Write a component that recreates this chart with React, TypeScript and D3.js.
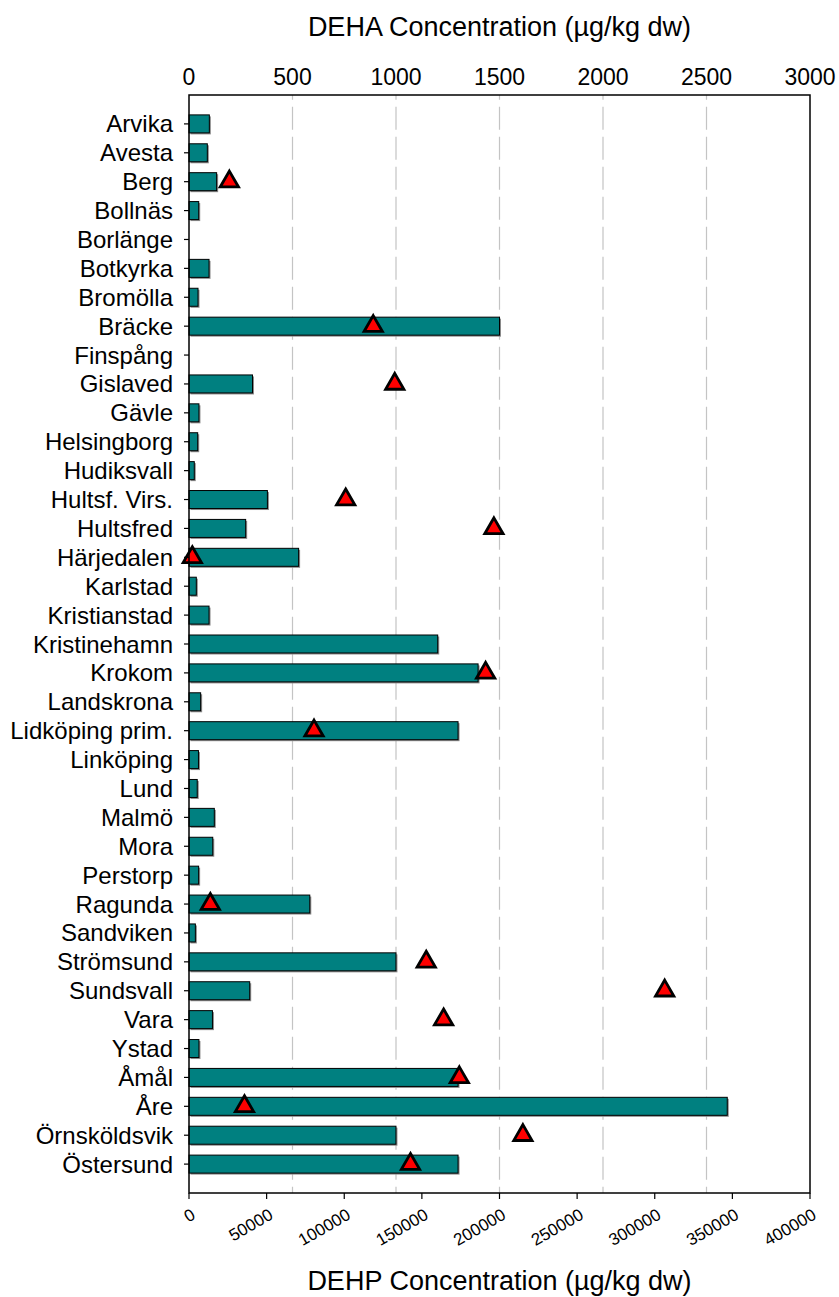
import React from "react";
import * as d3 from "d3";

const categories = [
  "Arvika", "Avesta", "Berg", "Bollnäs", "Borlänge", "Botkyrka", "Bromölla", "Bräcke",
  "Finspång", "Gislaved", "Gävle", "Helsingborg", "Hudiksvall", "Hultsf. Virs.", "Hultsfred",
  "Härjedalen", "Karlstad", "Kristianstad", "Kristinehamn", "Krokom", "Landskrona",
  "Lidköping prim.", "Linköping", "Lund", "Malmö", "Mora", "Perstorp", "Ragunda",
  "Sandviken", "Strömsund", "Sundsvall", "Vara", "Ystad", "Åmål", "Åre", "Örnsköldsvik", "Östersund",
];

// DEHP concentration (µg/kg dw) – bars, bottom axis
const dehp: (number | null)[] = [
  13100, 11800, 17800, 6250, null, 12900, 5800, 200000,
  null, 40900, 6400, 5600, 3400, 50500, 36500,
  70600, 4700, 12900, 160200, 186200, 7500,
  173300, 6100, 5300, 16300, 15300, 6200, 77800,
  4100, 133300, 39100, 15100, 6400, 173300, 346700, 133300, 173300,
];

// DEHA concentration (µg/kg dw) – triangles, top axis
const deha: (number | null)[] = [
  null, null, 195, null, null, null, null, 890,
  null, 994, null, null, null, 757, 1473,
  16, null, null, null, 1433, null,
  604, null, null, null, null, null, 103,
  null, 1146, 2298, 1230, null, 1306, 268, 1613, 1070,
];

const dehpTicks = [0, 50000, 100000, 150000, 200000, 250000, 300000, 350000, 400000];
const dehaTicks = [0, 500, 1000, 1500, 2000, 2500, 3000];

const W = 839;
const H = 1297;
const left = 189;
const right = 810;
const top = 95;
const bottom = 1193;
const FONT = "'Liberation Sans', Arial, Helvetica, sans-serif";

export default function App() {
  const xP = d3.scaleLinear().domain([0, 400000]).range([left, right]);
  const xA = d3.scaleLinear().domain([0, 3000]).range([left, right]);
  const y = d3.scalePoint<string>().domain(categories).range([top, bottom]).padding(1);
  const barH = 18;
  const tri = d3.symbol().type(d3.symbolTriangle).size(145)() as string;

  return (
    <svg
      width={W}
      height={H}
      style={{ position: "absolute", left: 0, top: 0, background: "#fff" }}
      fontFamily={FONT}
    >
      <rect x={0} y={0} width={W} height={H} fill="#fff" />
      {/* gridlines (DEHA axis) */}
      {dehaTicks.filter((t) => t > 0 && t < 3000).map((t) => (
        <line
          key={"g" + t}
          x1={xA(t)}
          x2={xA(t)}
          y1={top}
          y2={bottom}
          stroke="#c4c4c4"
          strokeWidth={1.2}
          strokeDasharray="23,7"
          strokeDashoffset={18.3}
        />
      ))}
      {/* bars */}
      {categories.map((c, i) => {
        const v = dehp[i];
        if (v == null) return null;
        const yc = y(c)!;
        return (
          <g key={"b" + c}>
            <rect x={left + 1.5} y={yc - barH / 2 + 1.5} width={xP(v) - left} height={barH} fill="#8a8a8a" />
            <rect
              x={left}
              y={yc - barH / 2}
              width={xP(v) - left}
              height={barH}
              fill="#008080"
              stroke="#000"
              strokeWidth={1}
            />
          </g>
        );
      })}
      {/* triangles */}
      {categories.map((c, i) => {
        const v = deha[i];
        if (v == null) return null;
        return (
          <path
            key={"t" + c}
            d={tri}
            transform={`translate(${xA(v)},${y(c)})`}
            fill="#ff0000"
            stroke="#000"
            strokeWidth={2.8}
            strokeLinejoin="miter"
          />
        );
      })}
      {/* frame */}
      <rect x={left} y={top} width={right - left} height={bottom - top} fill="none" stroke="#000" strokeWidth={1.5} />
      {/* left ticks and labels */}
      {categories.map((c) => (
        <g key={"l" + c}>
          <line x1={left - 5} x2={left} y1={y(c)} y2={y(c)} stroke="#000" strokeWidth={1.2} />
          <text x={173} y={y(c)} textAnchor="end" dominantBaseline="central" fontSize={24} fill="#000">
            {c}
          </text>
        </g>
      ))}
      {/* top axis labels */}
      {dehaTicks.map((t) => (
        <text key={"ta" + t} x={xA(t)} y={85} textAnchor="middle" fontSize={23} fill="#000">
          {t}
        </text>
      ))}
      {/* bottom axis ticks and labels */}
      {dehpTicks.map((t) => (
        <g key={"bp" + t}>
          <line x1={xP(t)} x2={xP(t)} y1={bottom} y2={bottom + 6} stroke="#000" strokeWidth={1.2} />
          <text
            transform={`translate(${xP(t) + 7.5},${bottom + 25}) rotate(-30)`}
            textAnchor="end"
            fontSize={17}
            fill="#000"
          >
            {t}
          </text>
        </g>
      ))}
      {/* titles */}
      <text x={(left + right) / 2} y={36} textAnchor="middle" fontSize={27} fill="#000">
        DEHA Concentration (µg/kg dw)
      </text>
      <text x={(left + right) / 2} y={1290} textAnchor="middle" fontSize={27} fill="#000">
        DEHP Concentration (µg/kg dw)
      </text>
    </svg>
  );
}
